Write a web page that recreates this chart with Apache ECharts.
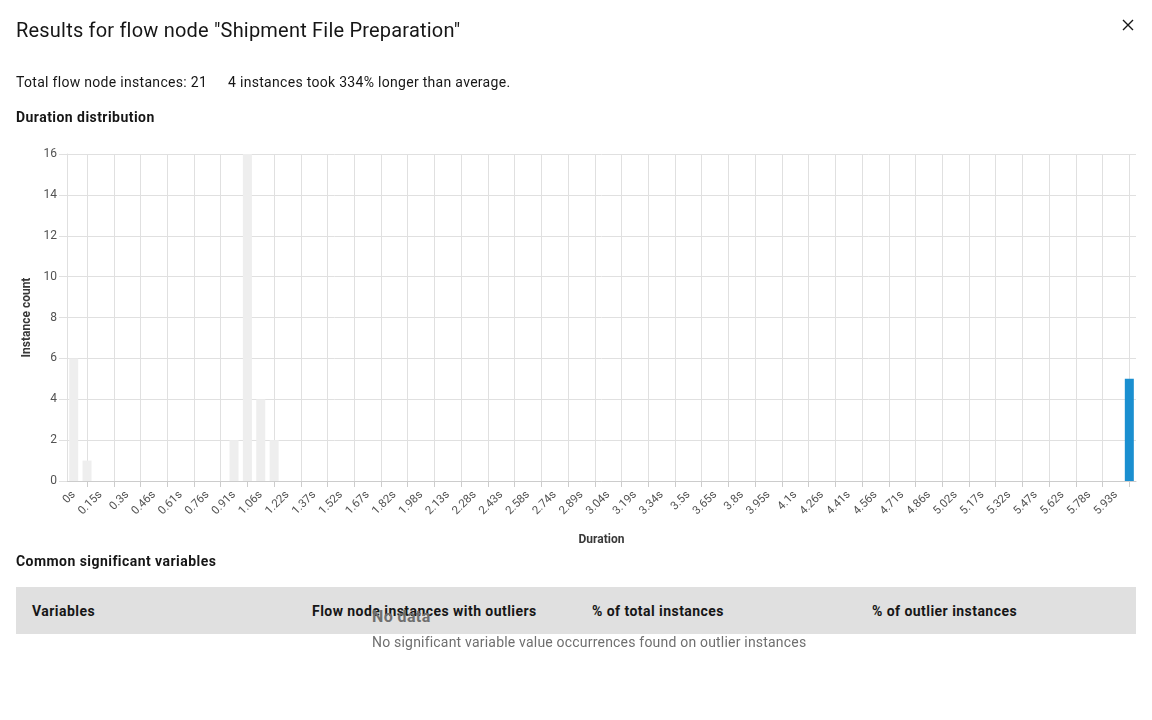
<!DOCTYPE html>
<html>
<head>
<meta charset="utf-8">
<script src="https://cdn.jsdelivr.net/npm/echarts@6/dist/echarts.min.js"></script>
<style>
  html, body { margin: 0; padding: 0; background: #ffffff; }
  body { width: 1152px; height: 720px; position: relative; overflow: hidden;
         font-family: Roboto, "Noto Sans", sans-serif; color: #161616; }
  #chart { position: absolute; left: 0; top: 0; width: 1152px; height: 720px; }
  .t { position: absolute; white-space: nowrap; }
  .title { left: 16px; top: 20px; font-size: 20px; line-height: 20px; letter-spacing: 0.2px; }
  .sub { top: 75px; font-size: 14px; line-height: 14px; letter-spacing: 0.3px; }
  .h { font-size: 14px; line-height: 14px; font-weight: 700; letter-spacing: 0.45px; }
  .thead { position: absolute; left: 16px; top: 587px; width: 1120px; height: 47px; background: #e0e0e0; }
  .nodata { left: 372px; top: 609px; font-size: 16px; line-height: 16px; font-weight: 700; color: #6f6f6f; letter-spacing: 0.4px; }
  .nodesc { left: 372px; top: 635px; font-size: 14px; line-height: 14px; color: #6f6f6f; letter-spacing: 0.2px; }
  .close { position: absolute; left: 1122px; top: 19px; }
</style>
</head>
<body>
<div id="chart"></div>
<div class="t title">Results for flow node "Shipment File Preparation"</div>
<div class="t sub" style="left:16px;">Total flow node instances: 21</div>
<div class="t sub" style="left:228px;">4 instances took 334% longer than average.</div>
<div class="t h" style="left:16px; top:110px;">Duration distribution</div>
<div class="t h" style="left:16px; top:554px;">Common significant variables</div>
<div class="thead"></div>
<div class="t h" style="left:32px; top:604px;">Variables</div>
<div class="t h" style="left:312px; top:604px;">Flow node instances with outliers</div>
<div class="t h" style="left:592px; top:604px;">% of total instances</div>
<div class="t h" style="left:872px; top:604px;">% of outlier instances</div>
<div class="t nodata">No data</div>
<div class="t nodesc">No significant variable value occurrences found on outlier instances</div>
<svg class="close" width="12" height="12" viewBox="0 0 12 12">
  <path d="M1 1 L11 11 M11 1 L1 11" stroke="#161616" stroke-width="1.4" fill="none"/>
</svg>
<script>
// Tick labels shown on every other duration bin (bin start times)
const tickLabels = ['0s','0.15s','0.3s','0.46s','0.61s','0.76s','0.91s','1.06s','1.22s','1.37s',
  '1.52s','1.67s','1.82s','1.98s','2.13s','2.28s','2.43s','2.58s','2.74s','2.89s',
  '3.04s','3.19s','3.34s','3.5s','3.65s','3.8s','3.95s','4.1s','4.26s','4.41s',
  '4.56s','4.71s','4.86s','5.02s','5.17s','5.32s','5.47s','5.62s','5.78s','5.93s'];

// Instance counts per duration bin (80 bins), regular instances
const regularCounts = [
  6, 1, 0, 0, 0, 0, 0, 0, 0, 0,
  0, 0, 2, 16, 4, 2, 0, 0, 0, 0,
  0, 0, 0, 0, 0, 0, 0, 0, 0, 0,
  0, 0, 0, 0, 0, 0, 0, 0, 0, 0,
  0, 0, 0, 0, 0, 0, 0, 0, 0, 0,
  0, 0, 0, 0, 0, 0, 0, 0, 0, 0,
  0, 0, 0, 0, 0, 0, 0, 0, 0, 0,
  0, 0, 0, 0, 0, 0, 0, 0, 0, 0
];
// Instance counts per duration bin, outlier instances
const outlierCounts = [
  0, 0, 0, 0, 0, 0, 0, 0, 0, 0,
  0, 0, 0, 0, 0, 0, 0, 0, 0, 0,
  0, 0, 0, 0, 0, 0, 0, 0, 0, 0,
  0, 0, 0, 0, 0, 0, 0, 0, 0, 0,
  0, 0, 0, 0, 0, 0, 0, 0, 0, 0,
  0, 0, 0, 0, 0, 0, 0, 0, 0, 0,
  0, 0, 0, 0, 0, 0, 0, 0, 0, 0,
  0, 0, 0, 0, 0, 0, 0, 0, 0, 5
];
const yTicks = [0, 2, 4, 6, 8, 10, 12, 14, 16];

const bins = regularCounts.map((_, i) => 'bin' + i);
const gridColor = '#e0e0e0';
const labelColor = '#525252';
const fontFamily = 'Roboto, "Noto Sans", sans-serif';

const chart = echarts.init(document.getElementById('chart'), null, { renderer: 'canvas' });
chart.setOption({
  animation: false,
  grid: { left: 67, right: 16, top: 154, bottom: 239, containLabel: false },
  xAxis: {
    type: 'category',
    data: bins,
    boundaryGap: true,
    name: 'Duration',
    nameLocation: 'middle',
    nameGap: 53,
    nameTextStyle: { fontSize: 12, fontWeight: 'bold', color: '#393939', fontFamily: fontFamily },
    axisLine: { show: true, lineStyle: { color: '#cccccc' } },
    axisTick: { show: true, alignWithLabel: true, length: 6,
      interval: (i) => i % 2 === 1, lineStyle: { color: '#cccccc' } },
    splitLine: { show: true, alignWithLabel: true,
      interval: (i) => i % 2 === 1, lineStyle: { color: gridColor } },
    axisLabel: {
      interval: 1, rotate: 45, margin: 12, fontSize: 11.5, color: labelColor, fontFamily: fontFamily,
      formatter: (v, i) => (i % 2 === 0 ? tickLabels[i / 2] : '')
    }
  },
  yAxis: {
    type: 'value',
    min: yTicks[0],
    max: yTicks[yTicks.length - 1],
    interval: yTicks[1] - yTicks[0],
    name: 'Instance count',
    nameLocation: 'middle',
    nameGap: 34,
    nameRotate: 90,
    nameTextStyle: { fontSize: 12, fontWeight: 'bold', color: '#393939', fontFamily: fontFamily },
    axisLine: { show: true, lineStyle: { color: gridColor } },
    axisTick: { show: true, length: 8, lineStyle: { color: gridColor } },
    splitLine: { show: true, lineStyle: { color: gridColor } },
    axisLabel: { margin: 10, fontSize: 12, color: labelColor, fontFamily: fontFamily }
  },
  series: [
    {
      name: 'Instances', type: 'bar', data: regularCounts, barWidth: 9, barGap: '-100%',
      itemStyle: { color: '#eeeeee', borderWidth: 0 }
    },
    {
      name: 'Outliers', type: 'bar', data: outlierCounts, barWidth: 9, barGap: '-100%',
      itemStyle: { color: '#1a8fd0', borderWidth: 0 }
    }
  ]
});
</script>
</body>
</html>
